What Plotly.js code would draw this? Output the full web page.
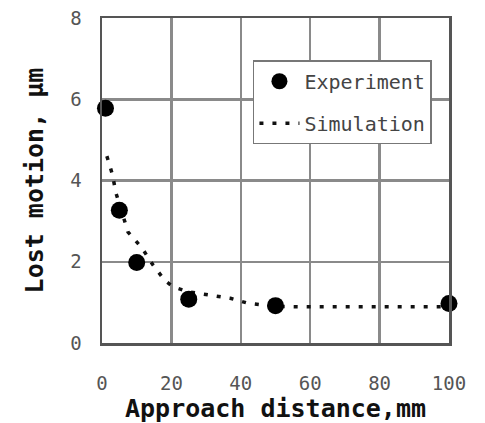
<!DOCTYPE html>
<html>
<head>
<meta charset="utf-8">
<script src="https://cdn.plot.ly/plotly-3.0.1.min.js"></script>
<style>html,body{margin:0;padding:0;background:#fff;}#chart{width:485px;height:423px;}</style>
</head>
<body>
<div id="chart"></div>
<script>
// Experiment data
var expX = [1, 5, 10, 25, 50, 100];
var expY = [5.78, 3.27, 1.98, 1.08, 0.92, 0.97];
// Simulation curve
var simX = [1.4, 3, 4, 7.5, 11.5, 14.7, 18, 20.5, 25, 31, 37, 42, 50, 60, 70, 80, 90, 100];
var simY = [4.6, 4.15, 3.7, 2.73, 2.34, 1.92, 1.55, 1.38, 1.26, 1.18, 1.1, 0.98, 0.9, 0.89, 0.89, 0.89, 0.89, 0.89];
var xTicks = [0, 20, 40, 60, 80, 100];
var yTicks = [0, 2, 4, 6, 8];
var seriesNames = ["Experiment", "Simulation"];
var xTitle = "Approach distance,mm";
var yTitle = "Lost motion, μm";

var mono = "DejaVu Sans Mono, monospace";

var traces = [
  {
    x: simX, y: simY, name: seriesNames[1], mode: "lines",
    legendgroup: "b", legendrank: 2,
    line: {color: "#111", width: 3.5, dash: "4px,9px"},
    cliponaxis: false
  },
  {
    x: expX, y: expY, name: seriesNames[0], mode: "markers",
    legendgroup: "a", legendrank: 1,
    marker: {color: "#000", size: 17, symbol: "circle"},
    cliponaxis: false
  }
];

var layout = {
  width: 485, height: 423,
  margin: {l: 102, r: 36, t: 18, b: 80},
  paper_bgcolor: "#fff", plot_bgcolor: "#fff",
  showlegend: true,
  legend: {
    x: 0.435, y: 0.87, xanchor: "left", yanchor: "top",
    bgcolor: "#fff", bordercolor: "#777", borderwidth: 1.5,
    font: {family: mono, size: 20, color: "#444"},
    traceorder: "grouped",
    tracegroupgap: 13,
    itemwidth: 40
  },
  xaxis: {
    range: [0, 100], tickvals: xTicks, ticktext: xTicks.map(String),
    showgrid: true, gridcolor: "#8a8a8a", gridwidth: 2.5,
    showline: true, linecolor: "#555", linewidth: 2.5, mirror: true,
    zeroline: false, ticks: "", ticklabelstandoff: 22,
    tickfont: {family: mono, size: 19, color: "#555"},
    title: {text: xTitle, font: {family: mono, size: 25, color: "#111", weight: "bold"}, standoff: 0}
  },
  yaxis: {
    range: [0, 8], tickvals: yTicks, ticktext: yTicks.map(String),
    showgrid: true, gridcolor: "#8a8a8a", gridwidth: 2.5,
    showline: true, linecolor: "#555", linewidth: 2.5, mirror: true,
    zeroline: false, ticks: "", ticklabelstandoff: 14,
    tickfont: {family: mono, size: 19, color: "#555"},
    title: {text: yTitle, font: {family: mono, size: 25, color: "#111", weight: "bold"}, standoff: 20}
  }
};

Plotly.newPlot("chart", traces, layout, {staticPlot: true, displayModeBar: false});
</script>
</body>
</html>
